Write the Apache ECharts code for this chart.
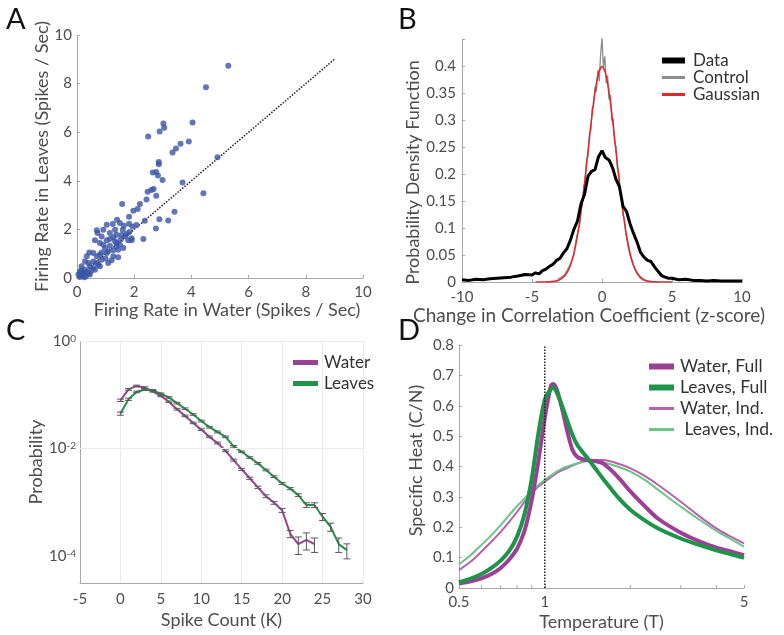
<!DOCTYPE html>
<html><head><meta charset="utf-8">
<script src="https://cdn.jsdelivr.net/npm/echarts@6/dist/echarts.min.js"></script>
<style>html,body{margin:0;padding:0;background:#fff}#c{width:784px;height:635px}</style>
</head><body><div id="c"></div>
<script>
// ---------- Panel A: firing rates ----------
const aWater = [5.29,4.51,4.04,3.02,3.05,2.89,2.49,3.91,3.62,3.46,3.34,4.91,2.86,2.86,2.65,2.77,2.83,2.99,3.69,2.68,2.60,2.47,2.77,4.42,2.43,1.58,2.20,2.12,1.97,3.41,1.82,2.37,3.19,2.88,2.76,2.32,1.04,1.25,1.40,1.50,1.64,1.82,1.94,2.08,0.69,0.72,1.15,1.38,1.56,1.73,1.83,1.91,1.79,1.53,1.33,1.04,0.63,0.80,0.92,1.15,1.38,1.62,1.44,1.27,1.09,0.86,0.43,0.57,0.34,0.80,0.69,1.27,1.44,0.86,1.21,0.57,0.28,0.40,0.69,1.09,0.16,0.45,0.57,0.80,0.28,0.10,0.22,0.40,0.05,0.16,0.31,0.45,0.16,0.26,0.10,0.63,0.98,1.04,1.38,1.50,1.68,1.60,1.33,0.86,0.92,1.91,1.27,1.15,0.20,0.35,0.50,0.75,1.00];
const aLeaves = [8.73,7.85,6.40,6.36,6.18,6.03,5.82,5.62,5.52,5.33,5.16,4.97,4.77,4.68,4.34,4.36,4.22,4.03,3.93,3.66,3.62,3.55,3.38,3.49,3.23,3.05,3.05,2.84,2.77,2.73,2.52,2.36,2.37,2.42,2.04,1.60,2.19,2.22,2.40,2.26,2.15,2.23,2.12,2.18,1.96,1.85,1.85,1.78,1.77,1.81,1.89,1.55,1.55,1.58,1.51,1.55,1.55,1.44,1.37,1.33,1.30,1.23,1.16,1.14,1.10,1.05,1.05,1.03,0.89,0.96,0.89,0.89,0.85,0.75,0.73,0.68,0.68,0.62,0.62,0.62,0.48,0.48,0.41,0.48,0.34,0.27,0.21,0.21,0.14,0.10,0.07,0.14,0.32,0.03,0.04,0.34,1.23,1.03,1.44,1.37,1.71,1.99,1.99,1.71,1.99,1.64,1.68,1.60,0.15,0.25,0.30,0.55,0.80];
const aIdentityX = [0, 9];
const aIdentityY = [0, 9];

// ---------- Panel B: change in correlation ----------
const bDataX = [-10,-9.5,-9,-8.5,-8,-7.5,-7,-6.5,-6,-5.5,-5,-4.75,-4.5,-4.25,-4,-3.75,-3.5,-3.25,-3,-2.75,-2.5,-2.25,-2,-1.75,-1.5,-1.25,-1,-0.75,-0.5,-0.25,0,0.25,0.5,0.75,1,1.25,1.5,1.75,2,2.25,2.5,2.75,3,3.25,3.5,3.75,4,4.25,4.5,4.75,5,5.5,6,6.5,7,7.5,8,8.5,9,9.5,10];
const bDataY = [0.004,0.003,0.005,0.004,0.006,0.007,0.008,0.009,0.011,0.014,0.013,0.017,0.015,0.021,0.024,0.029,0.033,0.040,0.044,0.054,0.062,0.078,0.098,0.113,0.145,0.162,0.196,0.205,0.208,0.232,0.243,0.230,0.226,0.212,0.190,0.176,0.140,0.131,0.108,0.090,0.074,0.055,0.046,0.040,0.038,0.028,0.020,0.012,0.009,0.007,0.007,0.004,0.005,0.003,0.003,0.002,0.003,0.002,0.002,0.002,0.002];
const bCtrlX = [-4,-3.9,-3.8,-3.7,-3.6,-3.5,-3.4,-3.3,-3.2,-3.1,-3,-2.9,-2.8,-2.7,-2.6,-2.5,-2.4,-2.3,-2.2,-2.1,-2,-1.9,-1.8,-1.7,-1.6,-1.5,-1.4,-1.3,-1.2,-1.1,-1,-0.9,-0.8,-0.7,-0.6,-0.5,-0.4,-0.3,-0.2,-0.1,0,0.1,0.2,0.3,0.4,0.5,0.6,0.7,0.8,0.9,1,1.1,1.2,1.3,1.4,1.5,1.6,1.7,1.8,1.9,2,2.1,2.2,2.3,2.4,2.5,2.6,2.7,2.8,2.9,3,3.1,3.2,3.3,3.4,3.5,3.6,3.7,3.8,3.9,4];
const bCtrlY = [0,0.001,0,0.002,0.001,0.003,0.001,0.004,0.002,0.006,0.004,0.009,0.006,0.013,0.010,0.021,0.018,0.031,0.030,0.044,0.050,0.071,0.074,0.097,0.104,0.136,0.143,0.176,0.186,0.226,0.233,0.276,0.281,0.322,0.326,0.362,0.352,0.392,0.372,0.421,0.452,0.398,0.418,0.368,0.382,0.338,0.346,0.298,0.302,0.258,0.252,0.209,0.201,0.164,0.156,0.124,0.116,0.089,0.086,0.061,0.058,0.040,0.041,0.026,0.025,0.015,0.016,0.008,0.010,0.004,0.006,0.002,0.003,0.001,0.002,0,0.001,0,0.001,0,0];
const bGaussX = [-4.75,-4.5,-4.25,-4,-3.75,-3.5,-3.25,-3,-2.75,-2.5,-2.25,-2,-1.75,-1.5,-1.25,-1,-0.75,-0.5,-0.25,0,0.25,0.5,0.75,1,1.25,1.5,1.75,2,2.25,2.5,2.75,3,3.25,3.5,3.75,4,4.25,4.5,4.75,5];
const bGaussY = [0,0,0,0.0001,0.0004,0.0009,0.002,0.0044,0.0091,0.0175,0.0317,0.054,0.0863,0.1295,0.1826,0.242,0.3011,0.3521,0.3867,0.3989,0.3867,0.3521,0.3011,0.242,0.1826,0.1295,0.0863,0.054,0.0317,0.0175,0.0091,0.0044,0.002,0.0009,0.0004,0.0001,0,0,0,0];

// ---------- Panel C: spike count distribution ----------
const cWaterK = [0,1,2,3,4,5,6,7,8,9,10,11,12,13,14,15,16,17,18,19,20,21,22,23,24];
const cWater = [0.079,0.126,0.146,0.136,0.116,0.095,0.074,0.054,0.0405,0.030,0.0225,0.0165,0.0127,0.0091,0.0061,0.0041,0.0028,0.0019,0.0013,0.00098,0.00071,0.00026,0.000167,0.0002,0.000167];
const cWaterErr = [0.004,0.005,0.005,0.005,0.004,0.003,0.0025,0.002,0.0014,0.001,0.0008,0.0006,0.0005,0.00035,0.00025,0.00018,0.00013,0.0001,0.00008,0.00006,0.00006,0.00004,0.00006,0.00007,0.00005];
const cLeavesK = [0,1,2,3,4,5,6,7,8,9,10,11,12,13,14,15,16,17,18,19,20,21,22,23,24,25,26,27,28];
const cLeaves = [0.0447,0.0826,0.113,0.125,0.121,0.105,0.089,0.07,0.055,0.043,0.0325,0.025,0.0204,0.0165,0.011,0.0087,0.0068,0.0053,0.004,0.003,0.00224,0.0018,0.00136,0.00089,0.00089,0.00054,0.00035,0.000167,0.000129];
const cLeavesErr = [0.003,0.004,0.004,0.004,0.004,0.003,0.003,0.0025,0.002,0.0015,0.0012,0.0009,0.0008,0.0006,0.0004,0.0003,0.00025,0.0002,0.00015,0.00012,0.0001,0.00008,0.00008,0.00009,0.00009,0.00008,0.00006,0.00005,0.00004];
const cGridDecades = [1e-4, 1e-2, 1];

// ---------- Panel D: specific heat ----------
const dTemp = [0.5,0.55,0.6,0.65,0.7,0.75,0.8,0.85,0.9,0.95,1.0,1.05,1.07,1.1,1.15,1.2,1.25,1.3,1.4,1.5,1.6,1.8,2.0,2.25,2.5,3.0,3.5,4.0,4.5,5.0];
const dWaterFull = [0.015,0.022,0.032,0.046,0.066,0.094,0.13,0.19,0.29,0.42,0.56,0.665,0.672,0.655,0.59,0.515,0.455,0.432,0.421,0.418,0.41,0.367,0.317,0.268,0.228,0.182,0.153,0.133,0.12,0.108];
const dLeavesFull = [0.019,0.031,0.046,0.066,0.09,0.122,0.17,0.245,0.36,0.51,0.62,0.655,0.66,0.645,0.60,0.55,0.505,0.471,0.432,0.395,0.36,0.30,0.257,0.222,0.196,0.163,0.141,0.124,0.111,0.099];
const dWaterInd = [0.059,0.087,0.12,0.153,0.185,0.218,0.251,0.284,0.312,0.334,0.35,0.365,0.37,0.378,0.388,0.396,0.403,0.41,0.418,0.421,0.421,0.41,0.394,0.368,0.339,0.284,0.235,0.196,0.169,0.147];
const dLeavesInd = [0.078,0.109,0.142,0.174,0.207,0.24,0.27,0.295,0.319,0.339,0.356,0.37,0.375,0.383,0.393,0.4,0.406,0.41,0.418,0.418,0.414,0.40,0.383,0.355,0.323,0.268,0.224,0.188,0.161,0.136];
const dCriticalT = [1, 1];
const dCriticalY = [0, 0.8];
const dMinorTicks = [0.6,0.7,0.8,0.9,2,3,4];

// ---------- chart ----------
const FONT = 'Lato, "Open Sans", sans-serif';
const TXT = '#4d4d4d';
const AX = '#a8a8a8';
const pairs = (xs, ys) => xs.map((x, i) => [x, ys[i]]);

function axis(o) {
  const base = {
    axisLine: {show: true, onZero: false, lineStyle: {color: AX, width: 1}},
    axisTick: {show: true, inside: true, length: 3, lineStyle: {color: AX}},
    splitLine: {show: false},
    axisLabel: {color: TXT, fontSize: 15, fontFamily: FONT},
    nameLocation: 'middle',
    nameTextStyle: {color: TXT, fontSize: 18, fontFamily: FONT}
  };
  const r = Object.assign({}, base, o);
  if (o.axisLabel) r.axisLabel = Object.assign({}, base.axisLabel, o.axisLabel);
  if (o.nameTextStyle) r.nameTextStyle = Object.assign({}, base.nameTextStyle, o.nameTextStyle);
  if (o.axisTick) r.axisTick = Object.assign({}, base.axisTick, o.axisTick);
  return r;
}

function errBars(ks, vals, errs, xi, yi) {
  return {
    type: 'custom', xAxisIndex: xi, yAxisIndex: yi, z: 5, silent: true,
    data: ks.map((k, i) => [k, vals[i] - errs[i], vals[i] + errs[i]]),
    encode: {x: 0, y: [1, 2]},
    renderItem: function (params, api) {
      const x = api.value(0);
      const lo = api.coord([x, api.value(1)]);
      const hi = api.coord([x, api.value(2)]);
      const w = 3.5;
      const st = {stroke: '#5a5a5a', lineWidth: 1};
      return {type: 'group', children: [
        {type: 'line', shape: {x1: lo[0], y1: lo[1], x2: hi[0], y2: hi[1]}, style: st},
        {type: 'line', shape: {x1: lo[0] - w, y1: lo[1], x2: lo[0] + w, y2: lo[1]}, style: st},
        {type: 'line', shape: {x1: hi[0] - w, y1: hi[1], x2: hi[0] + w, y2: hi[1]}, style: st}
      ]};
    }
  };
}

const legendText = (size, lh) => ({color: '#333', fontSize: size, fontFamily: FONT, lineHeight: lh});
const letter = {fontSize: 29, fontWeight: 'normal', color: '#111', fontFamily: FONT};

const option = {
  animation: false,
  backgroundColor: '#fff',
  title: [
    {text: 'A', left: 1, top: 0, textStyle: letter},
    {text: 'B', left: 393, top: 0, textStyle: letter},
    {text: 'C', left: 1, top: 311, textStyle: letter},
    {text: 'D', left: 393, top: 311, textStyle: letter}
  ],
  grid: [
    {left: 77, top: 35, width: 286, height: 243},
    {left: 462, top: 39, width: 280, height: 243},
    {left: 80, top: 341, width: 283, height: 242},
    {left: 459, top: 345, width: 285, height: 243}
  ],
  legend: [
    {data: ['Data'], orient: 'vertical', left: 657, top: 47, itemWidth: 23, itemHeight: 6, itemGap: 0, icon: 'rect', selectedMode: false, textStyle: Object.assign(legendText(17, 17), {padding: [0, 0, 0, 3]})},
    {data: ['Control', 'Gaussian'], orient: 'vertical', left: 657, top: 64, itemWidth: 23, itemHeight: 3, itemGap: 0, icon: 'rect', selectedMode: false, textStyle: Object.assign(legendText(17, 17), {padding: [0, 0, 0, 3]})},
    {data: ['Water', 'Leaves'], orient: 'vertical', left: 288, top: 347, itemWidth: 25, itemHeight: 5, itemGap: 0, icon: 'rect', selectedMode: false, textStyle: Object.assign(legendText(17, 21), {padding: [0, 0, 0, 1]})},
    {data: ['Water, Full', 'Leaves, Full'], orient: 'vertical', left: 644, top: 351, itemWidth: 25, itemHeight: 6, itemGap: 0, icon: 'rect', selectedMode: false, textStyle: Object.assign(legendText(17.5, 21), {padding: [0, 0, 0, 1]})},
    {data: ['Water, Ind.', ' Leaves, Ind.'], orient: 'vertical', left: 644, top: 393, itemWidth: 25, itemHeight: 3, itemGap: 0, icon: 'rect', selectedMode: false, textStyle: Object.assign(legendText(17.5, 21), {padding: [0, 0, 0, 1]})}
  ],
  xAxis: [
    axis({gridIndex: 0, type: 'value', min: 0, max: 10, interval: 2, axisLabel: {margin: 7},
      name: 'Firing Rate in Water (Spikes / Sec)', nameGap: 22, nameTextStyle: {padding: [0, 0, 0, 14]}}),
    axis({gridIndex: 1, type: 'value', min: -10, max: 10, interval: 5, axisLabel: {margin: 8},
      name: 'Change in Correlation Coefficient (z-score)', nameGap: 23, nameTextStyle: {fontSize: 19, padding: [0, 26, 0, 0]}}),
    axis({gridIndex: 2, type: 'value', min: -5, max: 30, interval: 5, axisTick: {show: false},
      splitLine: {show: true, lineStyle: {color: '#ebebeb', width: 1}}, axisLabel: {margin: 9},
      name: 'Spike Count (K)', nameGap: 28}),
    axis({gridIndex: 3, type: 'log', logBase: 10, min: 0.5, max: 5, axisLabel: {margin: 7},
      name: 'Temperature (T)', nameGap: 25})
  ],
  yAxis: [
    axis({gridIndex: 0, type: 'value', min: 0, max: 10, interval: 2, axisLabel: {margin: 5},
      name: 'Firing Rate in Leaves (Spikes / Sec)', nameGap: 26}),
    axis({gridIndex: 1, type: 'value', min: 0, max: 0.45, interval: 0.05,
      axisLabel: {margin: 6, formatter: v => (v > 0.44 ? '' : String(+v.toFixed(2)))},
      name: 'Probability Density Function', nameGap: 34, nameTextStyle: {padding: [0, 24, 0, 0]}}),
    axis({gridIndex: 2, type: 'log', logBase: 10, min: Math.pow(10, -4.5), max: 1, axisTick: {show: false},
      axisLabel: {margin: 4, formatter: function (v) {
        const e = Math.log10(v); const r = Math.round(e);
        if (Math.abs(e - r) > 1e-6 || r % 2 !== 0) return '';
        return '{b|10}{s|' + r + '}';
      }, rich: {
        b: {fontSize: 15, color: TXT, fontFamily: FONT},
        s: {fontSize: 10, color: TXT, fontFamily: FONT, verticalAlign: 'top', lineHeight: 10}
      }},
      name: 'Probability', nameGap: 32}),
    axis({gridIndex: 3, type: 'value', min: 0, max: 0.8, interval: 0.1, axisLabel: {margin: 5},
      name: 'Specific Heat (C/N)', nameGap: 34, nameTextStyle: {padding: [0, 0, 0, 12]}})
  ],
  series: [
    // A
    {type: 'scatter', xAxisIndex: 0, yAxisIndex: 0, data: pairs(aWater, aLeaves), symbolSize: 6,
      itemStyle: {color: '#3a55a6'}, z: 3},
    {type: 'line', xAxisIndex: 0, yAxisIndex: 0, data: pairs(aIdentityX, aIdentityY), symbol: 'none',
      lineStyle: {color: '#222', width: 1.5, type: [1.5, 1.5]}, z: 2},
    // B
    {name: 'Control', type: 'line', xAxisIndex: 1, yAxisIndex: 1, data: pairs(bCtrlX, bCtrlY), symbol: 'none',
      color: '#8c8c8c', lineStyle: {color: '#8c8c8c', width: 1.3}, z: 2},
    {name: 'Gaussian', type: 'line', xAxisIndex: 1, yAxisIndex: 1, data: pairs(bGaussX, bGaussY), symbol: 'none', smooth: 0.3,
      color: '#e0282b', lineStyle: {color: '#e0282b', width: 1.5}, z: 3},
    {name: 'Data', type: 'line', xAxisIndex: 1, yAxisIndex: 1, data: pairs(bDataX, bDataY), symbol: 'none',
      color: '#000', lineStyle: {color: '#000', width: 3}, z: 4},
    // C grid lines at even decades
    {type: 'line', xAxisIndex: 2, yAxisIndex: 2, data: [], z: 0, silent: true,
      markLine: {silent: true, symbol: 'none', label: {show: false}, animation: false,
        lineStyle: {color: '#ebebeb', type: 'solid', width: 1},
        data: cGridDecades.map(v => ({yAxis: v}))}},
    {name: 'Water', type: 'line', xAxisIndex: 2, yAxisIndex: 2, data: pairs(cWaterK, cWater), symbol: 'none',
      color: '#9c3f96', lineStyle: {color: '#9c3f96', width: 2}, z: 3},
    {name: 'Leaves', type: 'line', xAxisIndex: 2, yAxisIndex: 2, data: pairs(cLeavesK, cLeaves), symbol: 'none',
      color: '#1d9447', lineStyle: {color: '#1d9447', width: 2}, z: 3},
    errBars(cWaterK, cWater, cWaterErr, 2, 2),
    errBars(cLeavesK, cLeaves, cLeavesErr, 2, 2),
    // D
    {name: 'Water, Ind.', type: 'line', xAxisIndex: 3, yAxisIndex: 3, data: pairs(dTemp, dWaterInd), symbol: 'none', smooth: 0.3,
      color: '#b461ae', lineStyle: {color: '#b461ae', width: 2}, z: 2},
    {name: ' Leaves, Ind.', type: 'line', xAxisIndex: 3, yAxisIndex: 3, data: pairs(dTemp, dLeavesInd), symbol: 'none', smooth: 0.3,
      color: '#6cc487', lineStyle: {color: '#6cc487', width: 2}, z: 2},
    {name: 'Water, Full', type: 'line', xAxisIndex: 3, yAxisIndex: 3, data: pairs(dTemp, dWaterFull), symbol: 'none', smooth: 0.3,
      color: '#9c3f96', lineStyle: {color: '#9c3f96', width: 4}, z: 3},
    {name: 'Leaves, Full', type: 'line', xAxisIndex: 3, yAxisIndex: 3, data: pairs(dTemp, dLeavesFull), symbol: 'none', smooth: 0.3,
      color: '#1d9447', lineStyle: {color: '#1d9447', width: 4}, z: 4},
    {type: 'line', xAxisIndex: 3, yAxisIndex: 3, data: pairs(dCriticalT, dCriticalY), symbol: 'none',
      lineStyle: {color: '#222', width: 1.5, type: [1.5, 1.5]}, z: 5},
    {type: 'custom', xAxisIndex: 3, yAxisIndex: 3, silent: true, z: 1,
      data: dMinorTicks.map(t => [t, 0]),
      renderItem: function (params, api) {
        const p = api.coord([api.value(0), api.value(1)]);
        return {type: 'line', shape: {x1: p[0], y1: p[1], x2: p[0], y2: p[1] - 3}, style: {stroke: AX, lineWidth: 1}};
      }}
  ]
};

const chart = echarts.init(document.getElementById('c'), null, {renderer: 'canvas'});
chart.setOption(option);
</script>
</body></html>
